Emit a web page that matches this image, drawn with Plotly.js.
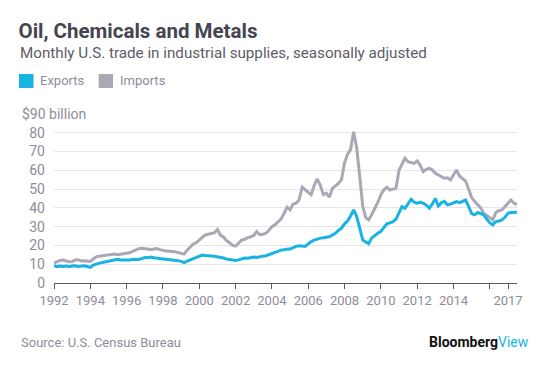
<!DOCTYPE html>
<html>
<head>
<meta charset="utf-8">
<script src="https://cdn.plot.ly/plotly-3.0.1.min.js"></script>
<style>
  html, body { margin: 0; padding: 0; background: #ffffff; }
  #chart { width: 557px; height: 366px; }
</style>
</head>
<body>
<div id="chart"></div>
<script>
// ---- Data (bi-monthly readings, billions of US$) ----
const years = [1992,1993,1994,1995,1996,1997,1998,1999,2000,2001,2002,2003,2004,2005,2006,2007,2008,2009,2010,2011,2012,2013,2014,2015,2016,2017];
const monthsOfYear = ['01','03','05','07','09','11'];
const lastYearMonths = ['01','03','05','07'];

const importsValues = [
  10.6,11.5,12.0,12.2,11.6,11.3, // 1992
  11.4,12.3,12.4,11.7,11.9,11.6, // 1993
  11.5,12.8,13.9,14.3,14.5,14.6, // 1994
  14.8,15.2,15.4,15.1,15.3,15.6, // 1995
  15.8,16.1,16.9,17.6,18.3,18.5, // 1996
  18.2,17.8,17.9,18.1,18.3,17.8, // 1997
  17.3,17.0,16.9,16.8,16.6,16.2, // 1998
  15.9,15.4,17.5,19.4,20.8,21.5, // 1999
  22.8,24.0,25.6,26.0,26.5,26.8, // 2000
  28.5,25.5,24.5,22.6,21.5,20.0, // 2001
  19.6,21.2,22.8,23.3,24.2,24.6, // 2002
  25.3,27.4,25.7,26.0,26.5,28.0, // 2003
  30.0,31.0,32.5,34.0,37.0,40.5, // 2004
  39.0,42.0,42.5,44.2,51.0,49.5, // 2005
  48.0,47.0,52.0,55.5,52.0,47.0, // 2006
  47.8,45.7,50.4,51.5,53.0,55.0, // 2007
  64.0,68.5,71.0,80.5,72.0,57.0, // 2008
  41.0,35.0,33.6,36.5,39.5,43.0, // 2009
  47.0,49.5,51.0,49.5,50.0,50.4, // 2010
  60.0,63.0,66.5,64.6,64.0,63.7, // 2011
  65.0,62.8,59.3,60.5,61.0,60.2, // 2012
  58.4,57.5,57.0,55.8,56.0,54.9, // 2013
  57.5,60.2,57.0,55.8,54.3,50.0, // 2014
  45.5,43.5,42.0,40.0,37.2,36.0, // 2015
  35.0,33.6,37.5,38.5,38.9,40.7, // 2016
  42.0,44.2,42.5,41.8            // 2017
];

const exportsValues = [
  9.2,8.7,9.0,8.8,9.1,8.7,       // 1992
  9.0,9.2,8.8,8.9,9.2,8.8,       // 1993
  8.3,9.5,10.2,10.6,10.9,11.3,   // 1994
  11.5,12.0,12.4,12.6,12.3,12.2, // 1995
  12.4,12.2,12.6,12.4,12.5,13.0, // 1996
  13.6,13.5,13.8,13.5,13.4,13.3, // 1997
  12.8,12.6,12.5,12.1,12.0,11.9, // 1998
  11.5,10.9,11.6,12.2,12.8,13.5, // 1999
  14.1,14.9,14.6,14.7,14.4,14.2, // 2000
  14.0,13.6,13.3,12.8,12.4,12.0, // 2001
  12.0,12.3,12.7,13.3,13.2,13.5, // 2002
  13.8,13.6,14.1,14.3,14.5,15.0, // 2003
  15.9,16.3,16.8,17.5,17.9,18.0, // 2004
  18.1,19.0,19.5,19.8,19.6,19.5, // 2005
  20.8,22.1,22.8,23.5,23.9,24.1, // 2006
  24.4,24.6,25.6,26.5,28.0,29.2, // 2007
  31.5,33.0,35.7,38.9,35.5,29.5, // 2008
  23.0,21.8,20.9,24.0,25.5,26.5, // 2009
  27.5,29.2,31.5,32.0,32.7,34.0, // 2010
  37.2,40.7,39.8,42.0,44.6,43.0, // 2011
  42.5,43.0,42.5,41.5,39.8,42.1, // 2012
  45.0,41.0,42.8,43.5,41.6,42.0, // 2013
  42.5,43.3,42.8,43.5,44.2,40.7, // 2014
  37.0,36.3,37.5,37.0,36.3,34.0, // 2015
  32.0,31.0,32.7,33.0,33.6,35.0, // 2016
  37.2,37.5,37.7,37.7            // 2017
];

const xTickYears = ['1992','1994','1996','1998','2000','2002','2004','2006','2008','2010','2012','2014','2016','2017'];
const xTickLabels = ['1992','1994','1996','1998','2000','2002','2004','2006','2008','2010','2012','2014','','2017'];
const yTickVals = [0,10,20,30,40,50,60,70,80,90];
const yTickLabels = ['0','10','20','30','40','50','60','70','80',''];

// ---- Build date strings ----
const dates = [];
years.forEach(y => {
  const ms = (y === 2017) ? lastYearMonths : monthsOfYear;
  ms.forEach(m => dates.push(y + '-' + m + '-01'));
});

// ---- Style ----
const W = 557, H = 366;
const L = 54, R = 40, T = 114, B = 83;
const PW = W - L - R, PH = H - T - B;
const px = x => (x - L) / PW;
const py = y => (H - B - y) / PH;

const cyan = '#17b3e3';
const gray = '#a9a8b4';
const tickGray = '#8e8d99';
const FONT = 'Roboto, "Open Sans", sans-serif';

const traces = [
  { x: dates, y: importsValues, type: 'scatter', mode: 'lines', name: 'Imports',
    line: { color: gray, width: 3 }, showlegend: false, hoverinfo: 'skip' },
  { x: dates, y: exportsValues, type: 'scatter', mode: 'lines', name: 'Exports',
    line: { color: cyan, width: 3 }, showlegend: false, hoverinfo: 'skip' }
];

const layout = {
  width: W, height: H,
  margin: { l: L, r: R, t: T, b: B, pad: 0 },
  paper_bgcolor: '#ffffff', plot_bgcolor: '#ffffff',
  font: { family: FONT, color: tickGray, size: 13 },
  showlegend: false,
  title: {
    text: '<b>Oil, Chemicals and Metals</b>',
    xref: 'container', yref: 'container',
    x: 18.5 / W, xanchor: 'left',
    y: 1 - 31 / H, yanchor: 'middle',
    font: { family: FONT, size: 20.5, color: '#45444f' }
  },
  xaxis: {
    type: 'date',
    range: ['1992-01-01', '2017-07-01'],
    tickmode: 'array',
    tickvals: xTickYears.map(y => y + '-01-01'),
    ticktext: xTickLabels,
    showgrid: false, zeroline: false,
    showline: true, linecolor: '#5b5a64', linewidth: 1,
    ticks: 'outside', ticklen: 5, tickwidth: 1, tickcolor: '#5b5a64',
    tickfont: { family: FONT, size: 13, color: tickGray },
    fixedrange: true
  },
  yaxis: {
    range: [0, 90],
    tickmode: 'array',
    tickvals: yTickVals,
    ticktext: yTickLabels,
    showgrid: true, gridcolor: '#e6e6e9', gridwidth: 1,
    zeroline: false, showline: false, ticks: '',
    ticklabelstandoff: 8,
    tickfont: { family: FONT, size: 14, color: tickGray },
    fixedrange: true
  },
  shapes: [
    { type: 'rect', xref: 'paper', yref: 'paper', x0: px(19), x1: px(33.5), y0: py(88), y1: py(74),
      fillcolor: cyan, line: { width: 0 } },
    { type: 'rect', xref: 'paper', yref: 'paper', x0: px(98.7), x1: px(113), y0: py(88), y1: py(74),
      fillcolor: gray, line: { width: 0 } }
  ],
  annotations: [
    { text: 'Monthly U.S. trade in industrial supplies, seasonally adjusted',
      xref: 'paper', yref: 'paper', x: px(18), y: py(52.5), xanchor: 'left', yanchor: 'middle',
      showarrow: false, font: { family: FONT, size: 15.2, color: '#5d5c68' } },
    { text: 'Exports', xref: 'paper', yref: 'paper', x: px(38), y: py(81), xanchor: 'left', yanchor: 'middle',
      showarrow: false, font: { family: FONT, size: 13, color: tickGray } },
    { text: 'Imports', xref: 'paper', yref: 'paper', x: px(117.5), y: py(81), xanchor: 'left', yanchor: 'middle',
      showarrow: false, font: { family: FONT, size: 13, color: tickGray } },
    { text: '$90 billion', xref: 'paper', yref: 'y', x: px(19), y: 90, xanchor: 'left', yanchor: 'middle',
      showarrow: false, bgcolor: '#ffffff', borderpad: 2,
      font: { family: FONT, size: 14, color: tickGray } },
    { text: 'Source: U.S. Census Bureau', xref: 'paper', yref: 'paper', x: px(19), y: py(342), xanchor: 'left', yanchor: 'middle',
      showarrow: false, font: { family: FONT, size: 13, color: tickGray } },
    { text: '<b>Bloomberg</b><span style="color:' + cyan + '">View</span>', xref: 'paper', yref: 'paper',
      x: px(531), y: py(342), xanchor: 'right', yanchor: 'middle',
      showarrow: false, font: { family: FONT, size: 14, color: '#111111' } }
  ]
};

Plotly.newPlot('chart', traces, layout, { displayModeBar: false, staticPlot: true });
</script>
</body>
</html>
